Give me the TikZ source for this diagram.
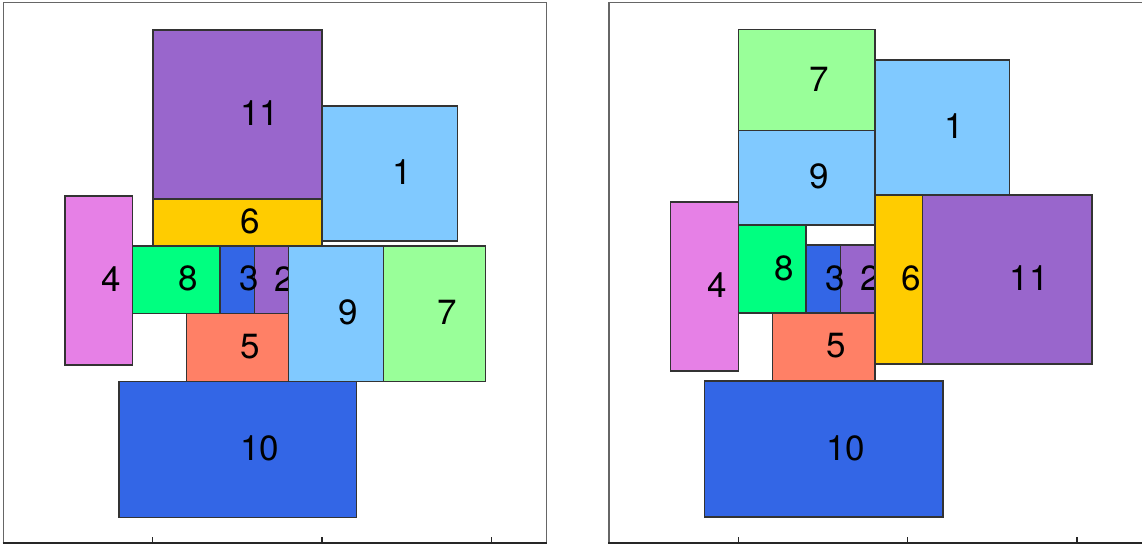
\documentclass[tikz,border=0pt]{standalone}
\usepackage{fontspec}
\setmainfont{TeX Gyre Heros}
\definecolor{cPurple}{HTML}{9966CC}
\definecolor{cSky}{HTML}{80C9FF}
\definecolor{cGold}{HTML}{FFCC00}
\definecolor{cOrchid}{HTML}{E680E6}
\definecolor{cSpring}{HTML}{00FF80}
\definecolor{cRoyal}{HTML}{3366E6}
\definecolor{cMint}{HTML}{99FF99}
\definecolor{cSalmon}{HTML}{FF8066}
\newcommand\rbx[7]{%
  \draw[rbox,fill=#2] (#3,#4) rectangle (#5,#6);
  \node[lab] (#1) at ({(#3+#5)/2},{(#4+#6)/2}) {#7};}
\begin{document}
\begin{tikzpicture}[x=1pt,y=-1pt,
  rbox/.style={draw=black!80,line width=1.1pt},
  lab/.style={anchor=west,inner sep=0pt,outer sep=0pt,xshift=2.5pt,yshift=1pt,font=\fontsize{35}{35}\selectfont},
  framel/.style={draw=black!60,line width=1.8pt},
  axisl/.style={draw=black!85,line width=1.6pt},
  tickl/.style={draw=black!85,line width=1.2pt}]
\useasboundingbox (0,0) rectangle (1142,545);
% ---------- left panel ----------
\draw[framel] (3.5,543) -- (3.5,2.5) -- (546.5,2.5) -- (546.5,543);
\draw[axisl] (2.7,543) -- (547.3,543);
\foreach \t in {152.5,322,491.5} \draw[tickl] (\t,543) -- (\t,537);
\rbx{L1}{cSky}{322}{106}{457.5}{241}{1}
\rbx{L2}{cPurple}{254.5}{246}{288.5}{313.5}{2}
\rbx{L3}{cRoyal}{220}{246}{254.5}{313.5}{3}
\rbx{L4}{cOrchid}{65}{196}{132.5}{365}{4}
\rbx{L5}{cSalmon}{186.5}{313.5}{288.5}{381.5}{5}
\rbx{L6}{cGold}{153}{199}{322}{246}{6}
\rbx{L7}{cMint}{383.5}{246}{485.5}{381.5}{7}
\rbx{L8}{cSpring}{132.5}{246}{220}{313.5}{8}
\rbx{L9}{cSky}{288.5}{246}{383.5}{381.5}{9}
\rbx{L10}{cRoyal}{119}{381.5}{356.5}{517.5}{10}
\rbx{L11}{cPurple}{153}{30}{322}{199}{11}
% ---------- right panel ----------
\draw[framel] (609,543) -- (609,2.5) -- (1142,2.5);
\draw[axisl] (608.2,543) -- (1142,543);
\foreach \t in {738.5,907.5,1077} \draw[tickl] (\t,543) -- (\t,537);
\rbx{R1}{cSky}{875}{60}{1009.5}{195}{1}
\rbx{R2}{cPurple}{840.5}{245}{875}{313}{2}
\rbx{R3}{cRoyal}{806}{245}{840.5}{313}{3}
\rbx{R4}{cOrchid}{670.5}{202}{738.5}{371}{4}
\rbx{R5}{cSalmon}{772.5}{313}{875}{381}{5}
\rbx{R6}{cGold}{875}{195}{922.5}{364}{6}
\rbx{R7}{cMint}{738.5}{29.5}{875}{130.5}{7}
\rbx{R8}{cSpring}{738.5}{225}{806}{313}{8}
\rbx{R9}{cSky}{738.5}{130.5}{875}{225}{9}
\rbx{R10}{cRoyal}{704.5}{381}{943}{517}{10}
\rbx{R11}{cPurple}{922.5}{195}{1092}{364}{11}
\end{tikzpicture}
\end{document}
